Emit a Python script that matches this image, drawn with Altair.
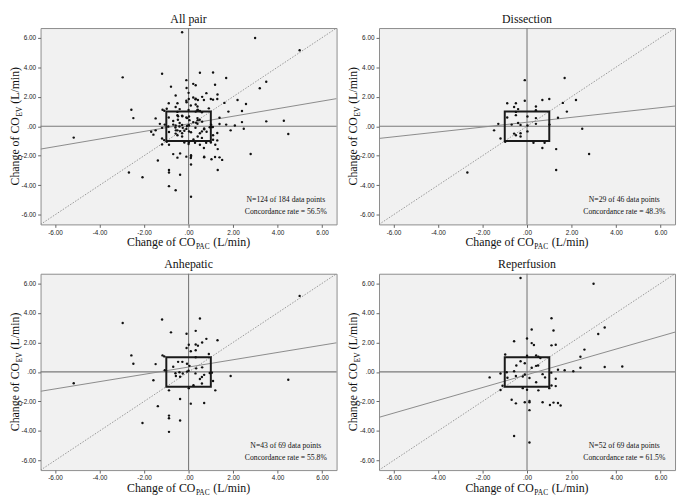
import altair as alt
import pandas as pd

# ---------------- data ----------------
dis_x = [-0.10, 1.69, -0.89, -0.50, -0.10, 0.69, 1.00, 1.61, 2.20, -0.58, -0.40, 0.40, 0.40, -0.50,
         -0.50, 1.79, -0.89, 0.02, 0.40, 1.39, -0.40, -1.29, -0.69, -0.29, 0.40, 0.02, 1.01, -1.48,
         0.02, 2.48, -0.58, -0.29, -0.50, -0.29, -1.19, -0.98, 0.29, 0.79, 0.69, 1.31, 2.79, 1.31, -2.68]
dis_y = [3.12, 3.27, 1.56, 1.56, 1.73, 1.78, 1.84, 1.58, 1.78, 1.30, 1.16, 1.34, 1.08, 0.97,
         0.75, 0.99, 0.59, 0.66, 0.55, 0.57, 0.22, 0.16, 0.11, 0.09, 0.16, 0.05, 0.11, -0.28,
         -0.35, -0.17, -0.50, -0.48, -0.61, -0.70, -0.83, -1.05, -1.12, -1.12, -1.47, -1.55, -1.88, -2.96, -3.13]

anh_x = [-2.96, -1.19, -0.79, -0.09, 0.01, -0.09, 0.10, -2.57, -1.17, -1.09, -2.48, -1.48, -0.47, -0.28,
         -0.07, -0.69, -1.07, -0.59, -0.41, -0.26, -0.07, -0.57, -0.38, -1.58, -5.16, -0.88, -0.38, -1.38,
         -0.88, -0.88, -0.38, -2.07, -0.88,
         4.99, 0.51, 0.32, 0.80, 1.30, 0.61, 0.32, 0.42, 0.32, 0.91, 0.32, 0.61, 0.34, 0.04,
         0.95, 1.05, 1.89, 0.70, 0.60, 0.51, 1.10, 0.60, 0.22, 0.01, 1.20, 0.70, 0.10, 4.48, 0.00, 0.31]
anh_y = [3.31, 3.55, 2.68, 2.59, 1.84, 1.62, 1.40, 1.12, 1.12, 1.05, 0.55, 0.53, 0.68, 0.68,
         0.55, 0.35, 0.11, -0.09, -0.02, -0.11, 0.02, -0.28, -0.33, -0.57, -0.77, -1.25, -1.84, -2.32,
         -2.96, -3.14, -3.29, -3.46, -4.06,
         5.15, 3.62, 2.78, 2.24, 2.15, 1.99, 1.86, 1.78, 1.47, 1.21, 0.99, 0.31, 0.24, 0.41,
         -0.07, -0.05, -0.28, -0.20, -0.35, -0.48, -0.61, -0.79, -0.90, -1.10, -1.25, -2.11, -2.15, -0.53, 0.08, -0.10]

rep_x = [-0.29, 1.10, 1.19, 0.21, -0.58, 0.00, 0.21, 0.31, 1.10, -0.98, 0.00, 0.41, 0.51, 0.60,
         -0.29, -0.48, -0.10, 0.21, 0.41, 0.50, -1.19, -0.91, -0.58, -0.10, -0.19, 0.70, 0.81, -0.50,
         -1.68, -0.88, 0.11, 1.09, 0.41, -1.10, -0.19, 0.00, 0.51, 1.00, 1.10, -1.19, -0.69, -0.50,
         -0.10, 0.11, 0.11, 0.70, 1.03, 0.11, -0.58, 0.11,
         2.99, 3.49, 3.20, 1.29, 2.58, 2.40, 1.39, 1.69, 2.08, 2.40, 3.49, 4.28, 1.29, 1.29, 1.19, 1.39, 1.51]
rep_y = [6.36, 3.64, 2.81, 2.87, 2.08, 2.26, 1.95, 1.82, 1.80, 1.18, 1.10, 1.12, 1.03, 0.94,
         0.72, 0.44, 0.59, 0.28, 0.41, 0.44, -0.11, -0.02, 0.05, -0.18, -0.31, -0.15, -0.37, -0.28,
         -0.37, -0.39, -0.41, -0.05, -0.70, -0.94, -1.10, -1.21, -1.25, -1.10, -0.92, -1.23, -1.89, -2.13,
         -2.06, -1.97, -2.06, -2.06, -2.24, -2.59, -4.34, -4.78,
         5.97, 3.01, 2.57, 1.84, 1.51, 1.03, 0.15, 0.11, 0.05, 0.28, 0.33, 0.37, -0.46, -0.96, -2.08, -2.11, -2.28]

panel_names = ["All pair", "Dissection", "Anhepatic", "Reperfusion"]
n_concordant = [124, 29, 43, 52]
n_total = [184, 46, 69, 69]
concordance = ["56.5%", "48.3%", "55.8%", "61.5%"]
reg_slope = [0.257, 0.165, 0.247, 0.434]
reg_intercept = [0.16, 0.27, 0.33, -0.19]
tick_values = [-6, -4, -2, 0, 2, 4, 6]
EXCL = 1.0  # exclusion zone (L/min)

# ---------------- layout ----------------
DOM = 6.65
W, H = 300, 199
SERIF = "Liberation Serif"
SANS = "Liberation Sans"
T_SIZE = 12.0
S_SIZE = 7.5

# Times metrics (per 1000 em) for composite titles
TM = {'C': 667, 'h': 500, 'a': 444, 'n': 500, 'g': 500, 'e': 444, ' ': 250, 'o': 500, 'f': 333,
      'O': 722, 'P': 556, 'A': 722, 'E': 611, 'V': 722, '(': 333, 'L': 611, '/': 278, 'm': 778,
      'i': 278, ')': 333}


def tw(s, size):
    return sum(TM.get(c, 500) for c in s) / 1000.0 * size


label_expr = ("datum.value == 0 ? '.00' : (datum.value < 0 ? '-' : '') + "
              "format(abs(datum.value), '.2f')")

xsc = alt.Scale(domain=[-DOM, DOM], nice=False, zero=False)
ysc = alt.Scale(domain=[-DOM, DOM], nice=False, zero=False)
xax = alt.Axis(values=tick_values, labelExpr=label_expr, title=None)
yax = alt.Axis(values=tick_values, labelExpr=label_expr, title=None)


def X(f):
    return alt.X(f, type="quantitative", scale=xsc, axis=xax)


def Y(f):
    return alt.Y(f, type="quantitative", scale=ysc, axis=yax)


def txt(s, x, y, size, angle=0, align="left", baseline="alphabetic"):
    return alt.Chart(pd.DataFrame({"t": [s]})).mark_text(
        font=SERIF, fontSize=size, angle=angle, align=align, baseline=baseline, color="#111"
    ).encode(x=alt.value(x), y=alt.value(y), text="t:N")


def to_px(v):
    return (v + DOM) / (2 * DOM) * W


def to_py(v):
    return (DOM - v) / (2 * DOM) * H


def panel(i, xs, ys):
    pts_df = pd.DataFrame({"x": xs, "y": ys})
    zero = pd.DataFrame({"x": [0.0], "y": [0.0]})
    vrule = alt.Chart(zero).mark_rule(color="#7a7a7a", strokeWidth=1.1).encode(x=X("x"))
    hrule = alt.Chart(zero).mark_rule(color="#7a7a7a", strokeWidth=1.1).encode(y=Y("y"))
    ident = alt.Chart(pd.DataFrame({"x": [-DOM, DOM], "y": [-DOM, DOM]})).mark_line(
        color="#808080", strokeWidth=0.8, strokeDash=[1.5, 1.5], clip=True
    ).encode(x=X("x"), y=Y("y"))
    s, b = reg_slope[i], reg_intercept[i]
    reg = alt.Chart(pd.DataFrame({"x": [-DOM, DOM], "y": [b - s * DOM, b + s * DOM]})).mark_line(
        color="#8a8a8a", strokeWidth=1.0, clip=True
    ).encode(x=X("x"), y=Y("y"))
    box = alt.Chart(pd.DataFrame({"x": [-EXCL], "x2": [EXCL], "y": [-EXCL], "y2": [EXCL]})).mark_rect(
        fill="transparent", stroke="#1a1a1a", strokeWidth=2
    ).encode(x=X("x"), x2="x2:Q", y=Y("y"), y2="y2:Q")
    pts = alt.Chart(pts_df).mark_circle(size=6, color="#111", opacity=1).encode(x=X("x"), y=Y("y"))

    # x title with subscript
    m1, sub, m2 = "Change of CO", "PAC", "(L/min)"
    w1, ws, w2, wsp = tw(m1, T_SIZE), tw(sub, S_SIZE), tw(m2, T_SIZE), tw(" ", T_SIZE)
    total = w1 + 0.5 + ws + wsp + w2
    x0 = W / 2 - total / 2
    yb = H + 22
    xt = [txt(m1, x0, yb, T_SIZE), txt(sub, x0 + w1 + 0.5, yb + 3, S_SIZE),
          txt(m2, x0 + w1 + 0.5 + ws + wsp, yb, T_SIZE)]

    # y title (rotated) with subscript
    sub_y = "EV"
    wsy = tw(sub_y, S_SIZE)
    total_y = w1 + 0.5 + wsy + wsp + w2
    y0 = H / 2 + total_y / 2
    xb = -22
    yt = [txt(m1, xb, y0, T_SIZE, angle=270), txt(sub_y, xb + 3, y0 - w1 - 0.5, S_SIZE, angle=270),
          txt(m2, xb, y0 - w1 - 0.5 - wsy - wsp, T_SIZE, angle=270)]

    ann = [txt(f"N={n_concordant[i]} of {n_total[i]} data points", to_px(4.37), to_py(-5.0), 7.8,
               align="center", baseline="middle"),
           txt(f"Concordance rate = {concordance[i]}", to_px(4.37), to_py(-5.8), 7.8,
               align="center", baseline="middle")]

    return alt.layer(hrule, vrule, ident, reg, box, pts, *xt, *yt, *ann).properties(
        width=W, height=H,
        title=alt.TitleParams(panel_names[i], font=SERIF, fontSize=12, fontWeight="normal",
                              color="#111", offset=2),
    )


all_x = dis_x + anh_x + rep_x
all_y = dis_y + anh_y + rep_y

p1 = panel(0, all_x, all_y)
p2 = panel(1, dis_x, dis_y)
p3 = panel(2, anh_x, anh_y)
p4 = panel(3, rep_x, rep_y)

chart = alt.vconcat(
    alt.hconcat(p1, p2, spacing=8),
    alt.hconcat(p3, p4, spacing=8),
    spacing=6,
).properties(
    padding={"left": 0, "top": 0, "right": 0, "bottom": 0},
    background="white",
).configure_view(
    fill="#f1f1f1", stroke="#8c8c8c", strokeWidth=1
).configure_axis(
    labelFont=SANS, labelFontSize=6.5, labelColor="#222", tickColor="#666", tickSize=3,
    labelPadding=2, domain=False, grid=False
)

chart.save("out.html", embed_options={"renderer": "svg", "actions": False})
